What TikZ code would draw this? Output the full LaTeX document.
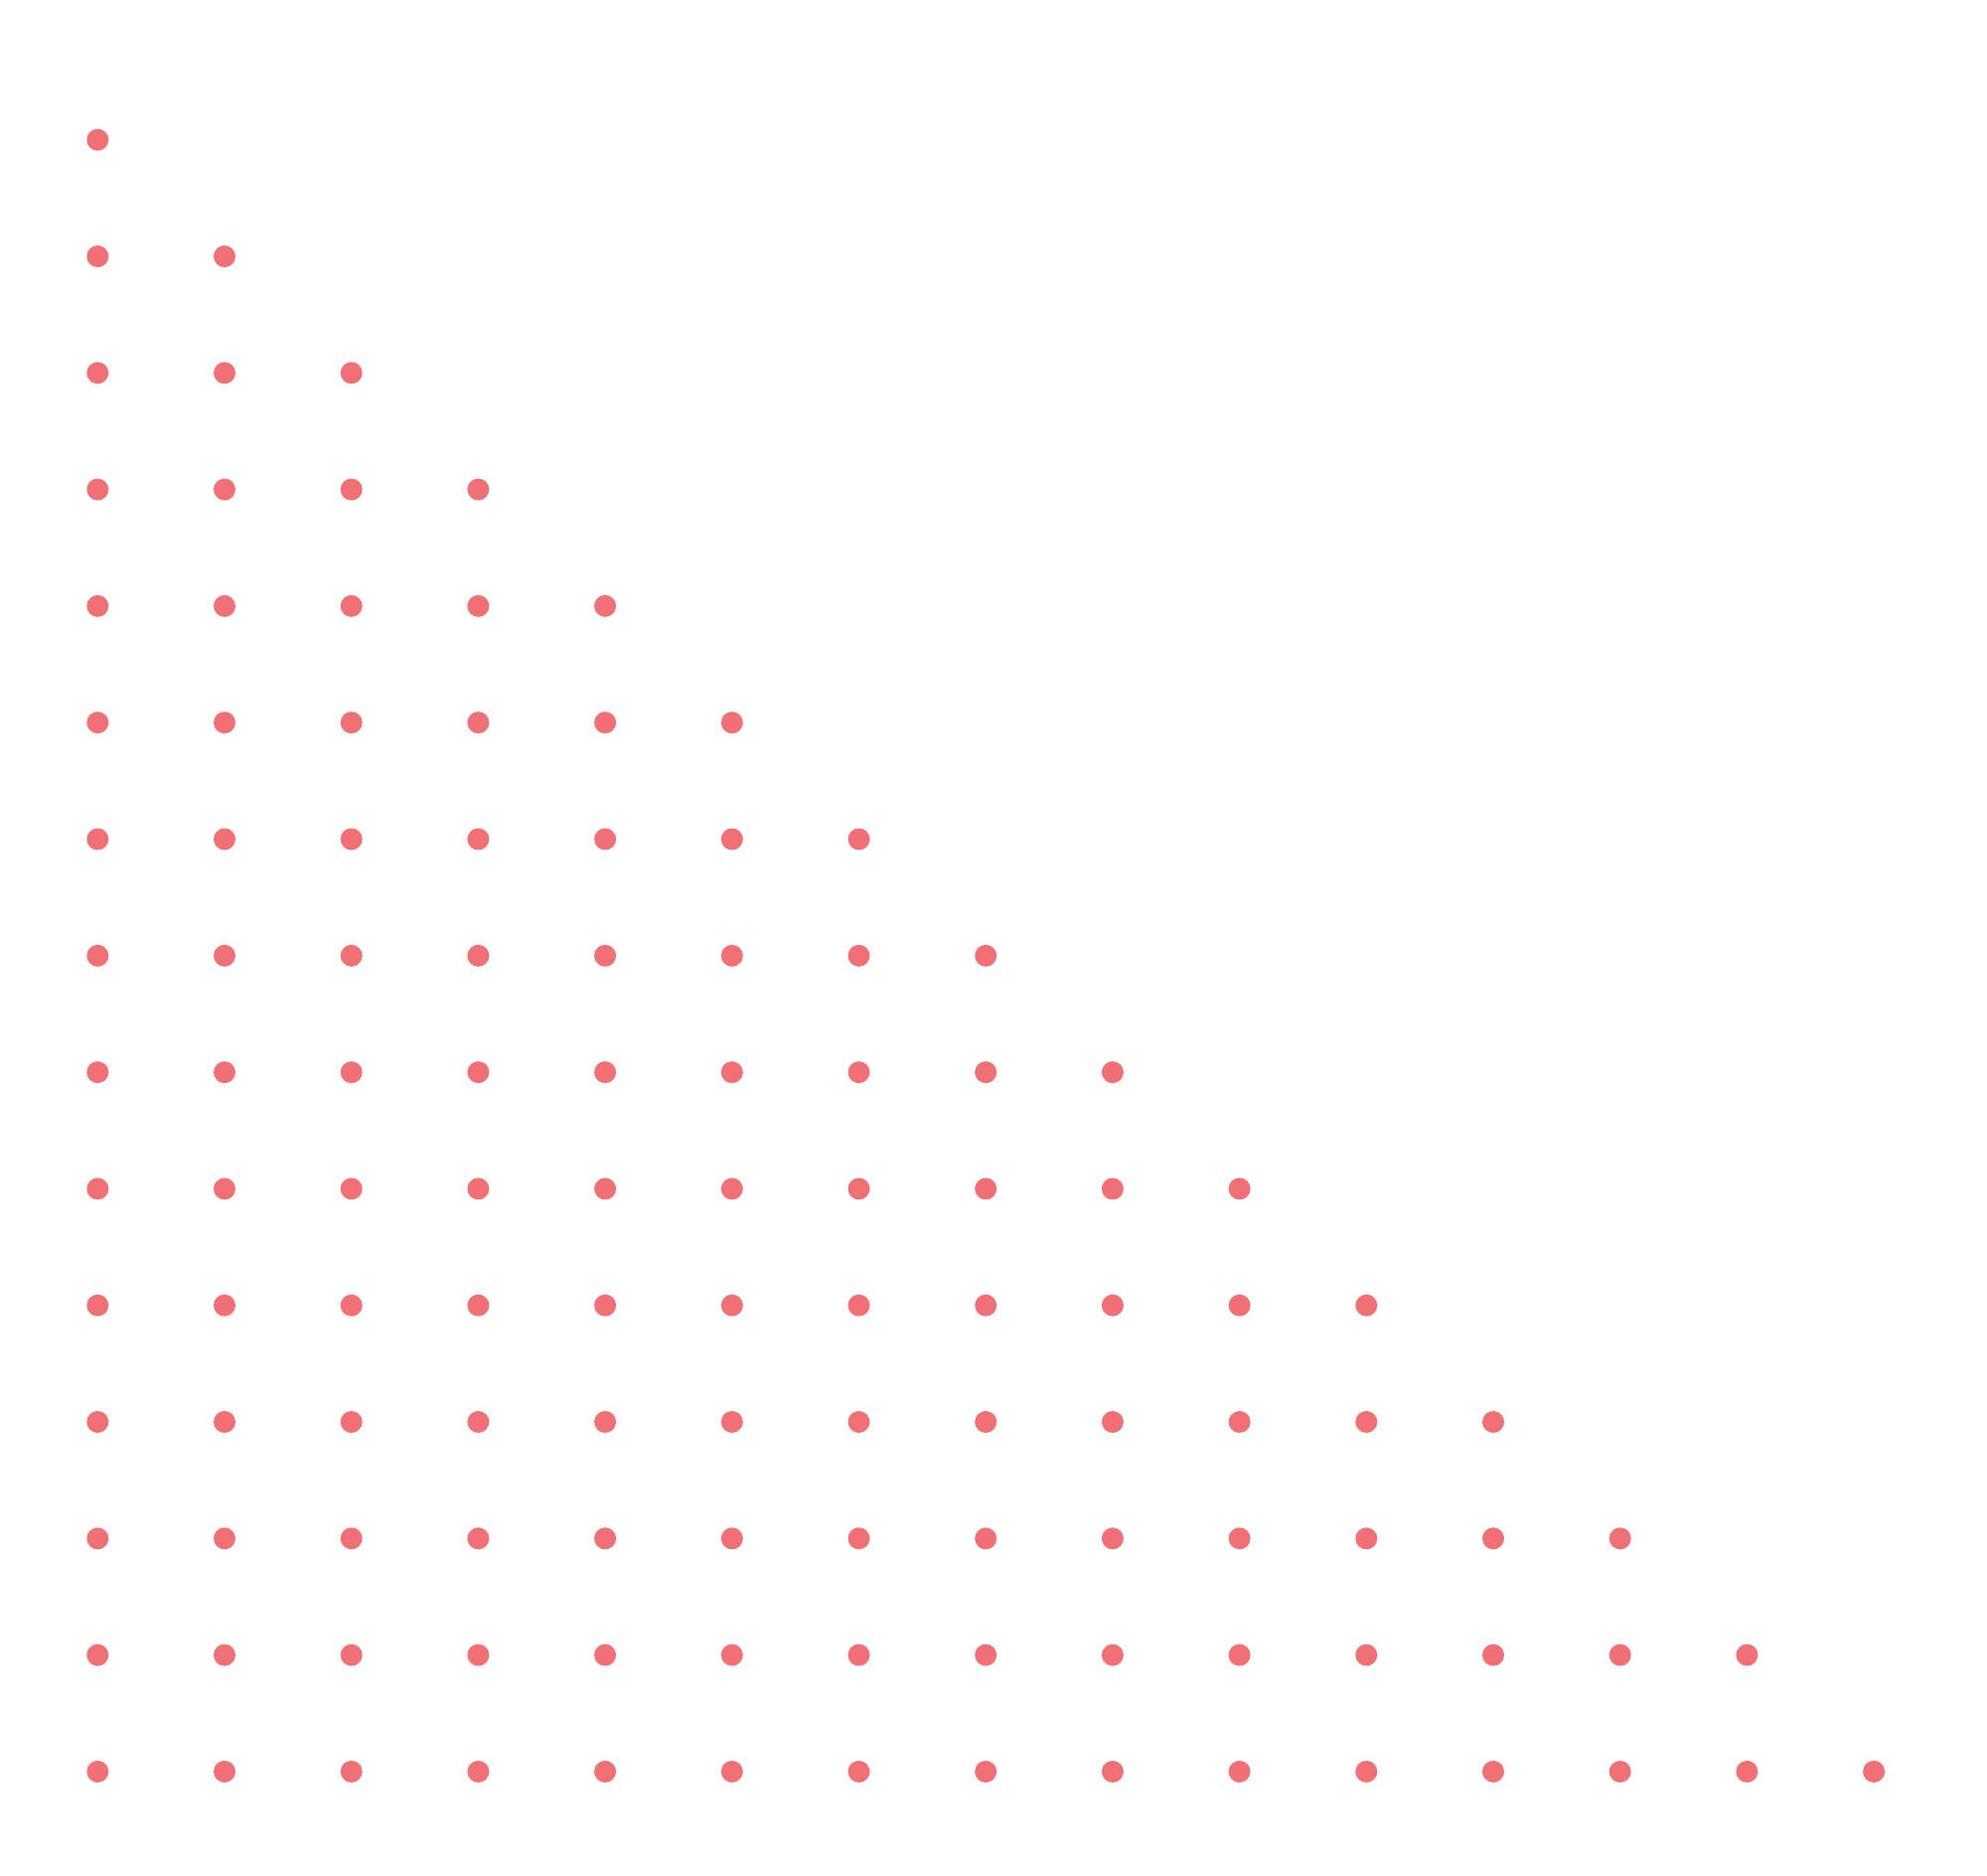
\documentclass[tikz,border=0pt]{standalone}
\usepackage{tikz}
\definecolor{dotred}{RGB}{240,112,117}
\tikzset{dot/.style={circle, fill=dotred, draw=none, inner sep=0pt, minimum size=0.22cm}}

\begin{document}
\begin{tikzpicture}[x=0.01cm, y=-0.01cm]
    % Fix the margins
    \useasboundingbox (0,0) rectangle (2000,1888);
    % Draw the triangle of dots
    \foreach \r in {0,...,14} {
        \foreach \c in {0,...,\r} {
            \node[dot] (d-\r-\c) at ({98.3+127.7*\c}, {140.7+117.3*\r}) {};
        }
    }
\end{tikzpicture}
\end{document}
